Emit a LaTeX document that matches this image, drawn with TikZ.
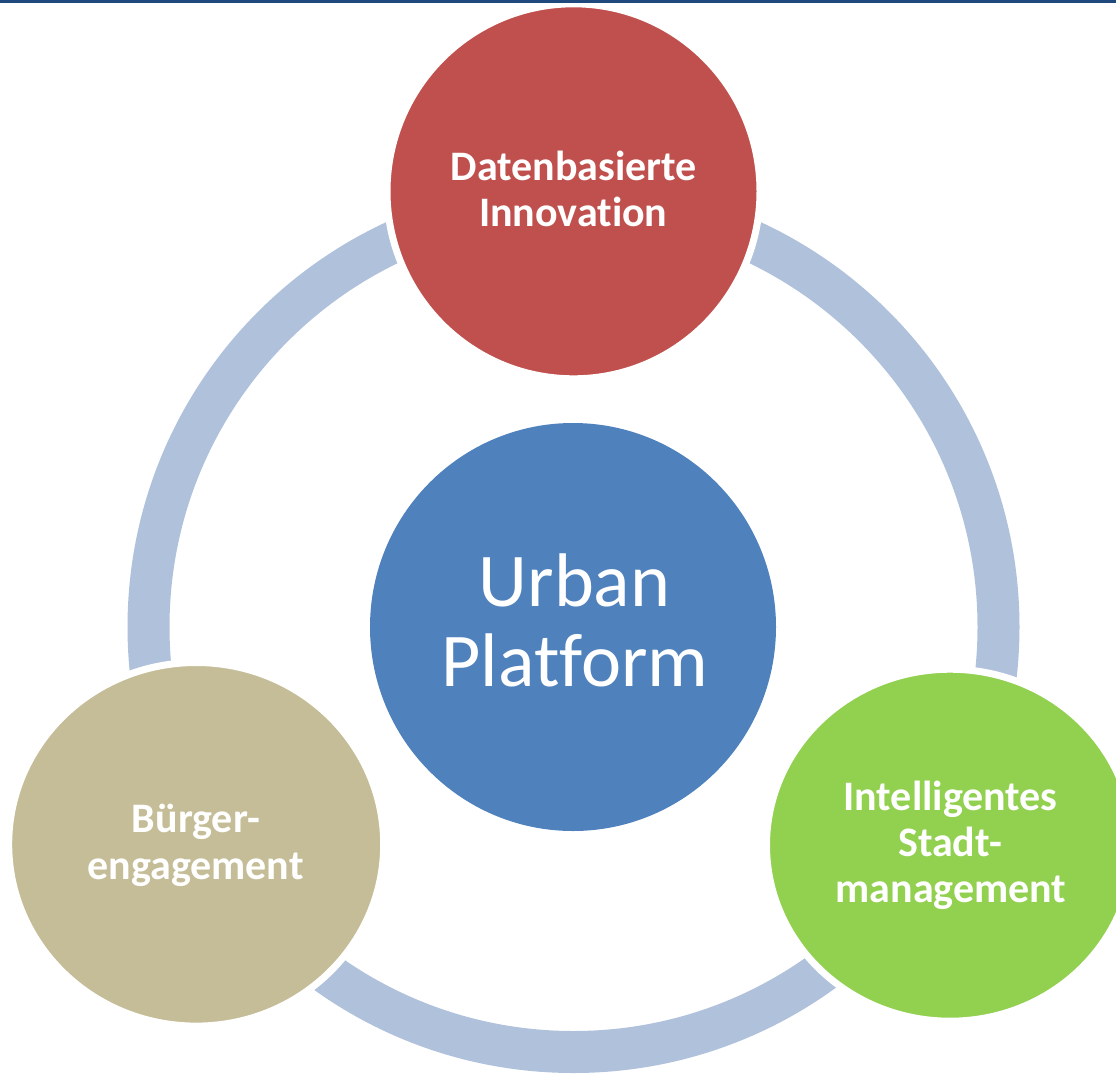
\documentclass[tikz,border=0pt]{standalone}
\usepackage{fontspec}
\setmainfont{Carlito}[Ligatures=CommonOff]
\usetikzlibrary{shapes.geometric}
\definecolor{cred}{HTML}{C0504D}
\definecolor{cblue}{HTML}{4F81BD}
\definecolor{ctan}{HTML}{C4BD97}
\definecolor{cgreen}{HTML}{92D050}
\definecolor{cring}{HTML}{B0C1DC}
\definecolor{cbar}{HTML}{1F497D}
\tikzset{
  bubble/.style={ellipse, inner sep=0pt, draw=white, line width=7pt},
  lbl/.style={text=white, inner sep=0pt, anchor=base, font=\fontsize{42}{46}\selectfont\bfseries},
  biglbl/.style={text=white, inner sep=0pt, anchor=base, font=\fontsize{76}{80}\selectfont},
  ringstyle/.style={draw=cring, line width=42pt}
}
\begin{document}
\begin{tikzpicture}[x=1pt,y=-1pt]
\useasboundingbox (0,0) rectangle (1116,1074);
\clip (0,0) rectangle (1116,1074);
\coordinate (ringc) at (573.5,627);
\draw[ringstyle] (ringc) circle [radius=425pt];
% circles
\node[bubble, fill=cred, minimum width=373pt, minimum height=375pt] (red) at (573.5,191.3) {};
\node[ellipse, inner sep=0pt, fill=cblue, minimum width=406pt, minimum height=408pt] (blue) at (573,627) {};
\node[bubble, fill=ctan, minimum width=375pt, minimum height=363.6pt] (tan) at (196.2,844.3) {};
\node[bubble, fill=cgreen, minimum width=367pt, minimum height=352pt] (green) at (950,845.2) {};
% top bar
\fill[cbar] (0,0) rectangle (1116,2.5);
% texts
\node[lbl] (r1) at (573.7,180) {Datenbasierte};
\node[lbl] (r2) at (573.2,226) {Innovation};
\node[biglbl] (b1) at (574.5,606.7) {Urban};
\node[biglbl] (b2) at (575,686.7) {Platform};
\node[lbl] (t1) at (196,832.7) {Bürger-};
\node[lbl] (t2) at (195.5,879) {engagement};
\node[lbl] (g1) at (950.5,810.7) {Intelligentes};
\node[lbl] (g2) at (950,856) {Stadt-};
\node[lbl] (g3) at (951,902) {management};
\end{tikzpicture}
\end{document}
